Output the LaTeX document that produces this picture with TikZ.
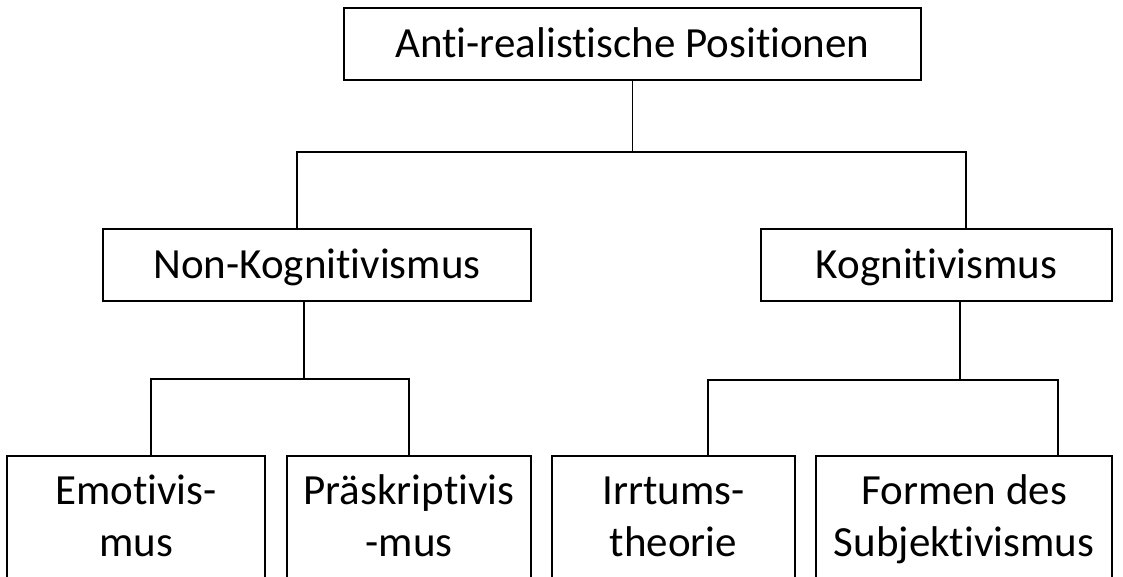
\documentclass[tikz,border=0pt]{standalone}
\usepackage{fontspec}
\setmainfont[Ligatures=NoCommon]{Carlito}
\begin{document}
\begin{tikzpicture}[x=1pt,y=-1pt,
  box/.style={draw=black,line width=1.6pt,rectangle,inner sep=0pt,
    font=\fontsize{43}{52}\selectfont,text height=27.5pt,text depth=0pt},
  conn/.style={draw=black,line width=1.1pt},
  lbl/.style={anchor=base,inner sep=0pt,font=\fontsize{43}{52}\selectfont}]
\useasboundingbox (0,0) rectangle (1123,576);
\node[box,minimum width=577pt,minimum height=72pt] (top) at (632.5,44) {Anti-realistische Positionen};
\node[box,minimum width=428pt,minimum height=72pt] (nk) at (317,265) {Non-Kognitivismus};
\node[box,minimum width=351pt,minimum height=72pt] (k) at (936.5,265) {Kognitivismus};
\node[box,anchor=north,minimum width=258pt,minimum height=160pt] (b1) at (136,455) {};
\node[box,anchor=north,minimum width=244pt,minimum height=160pt] (b2) at (409,455) {};
\node[box,anchor=north,minimum width=243pt,minimum height=160pt] (b3) at (673.5,455) {};
\node[box,anchor=north,minimum width=296pt,minimum height=160pt] (b4) at (964,455) {};
\node[lbl] (b1a) at (136,504) {Emotivis-};
\node[lbl] (b1b) at (136,556) {mus};
\node[lbl] (b2a) at (409,504) {Präskriptivis};
\node[lbl] (b2b) at (409,556) {-mus};
\node[lbl] (b3a) at (673.5,504) {Irrtums-};
\node[lbl] (b3b) at (673.5,556) {theorie};
\node[lbl] (b4a) at (964,504) {Formen des};
\node[lbl] (b4b) at (964,556) {Subjektivismus};
\coordinate (h1l) at (297,152);
\coordinate (h1r) at (966,152);
\coordinate (h2l) at (151,379);
\coordinate (h2r) at (409,379);
\coordinate (h3l) at (708,380);
\coordinate (h3r) at (1058,380);
\draw[conn] (top.south) -- (top.south |- h1l);
\draw[conn] (nk.north -| h1l) -- (h1l) -- (h1r) -- (k.north -| h1r);
\draw[conn] (nk.south -| 304,0) -- (304,379);
\draw[conn] (b1.north -| h2l) -- (h2l) -- (h2r) -- (b2.north -| h2r);
\draw[conn] (k.south -| 960,0) -- (960,380);
\draw[conn] (b3.north -| h3l) -- (h3l) -- (h3r) -- (b4.north -| h3r);
\end{tikzpicture}
\end{document}
